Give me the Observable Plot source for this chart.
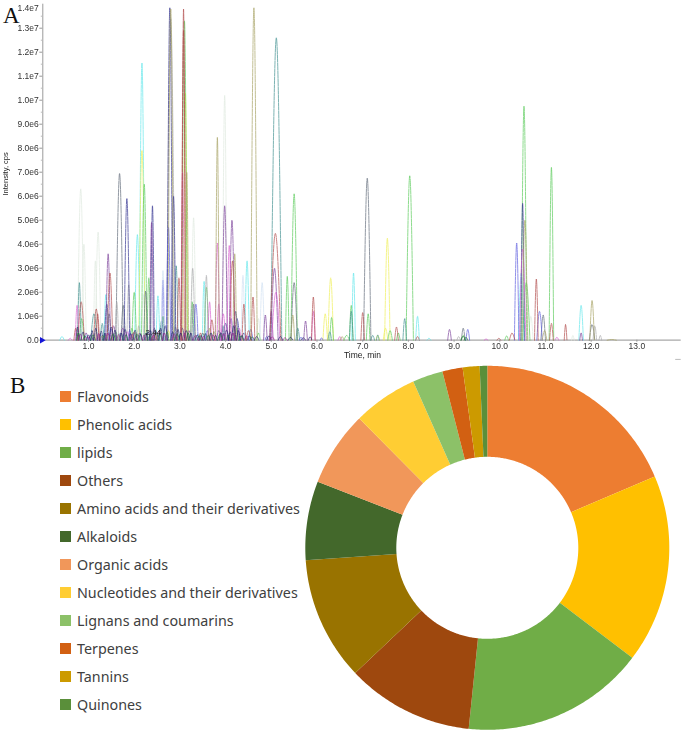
<!DOCTYPE html>
<html>
<head>
<meta charset="utf-8">
<script src="https://cdn.jsdelivr.net/npm/d3@7"></script>
<script src="https://cdn.jsdelivr.net/npm/@observablehq/plot@0.6"></script>
<style>
html,body{margin:0;padding:0;background:#fff;}
#page{position:relative;width:685px;height:733px;overflow:hidden;}
#page>*{position:absolute;}
.letter{font-family:"Liberation Serif",serif;font-size:23px;color:#111;line-height:1;}
#legend{left:60px;top:382.5px;font-family:"Noto Sans",sans-serif;font-size:14.3px;color:#404040;}
#legend div{display:flex;align-items:center;height:28px;white-space:nowrap;}
#legend i{display:inline-block;width:11px;height:11px;margin-right:6px;}
#panelA{filter:blur(0.45px);}
</style>
</head>
<body>
<div id="page"></div>
<script>
// ---------- Panel A: chromatogram peaks, [time min, height 1e6 cps, half base width min]
const paleGreenPeaks = [[0.83,6.3,.07],[0.9,4.0,.05],[1.15,3.3,.04],[1.21,4.5,.06],[3.3,5.1,.05],[3.98,10.2,.05],[4.72,.9,.04],[10.68,1.0,.05],[11.6,.2,.03],[2.2,1.9,.04]];
const cyanPeaks = [[0.42,.15,.05],[1.38,1.9,.04],[2.07,4.4,.06],[2.17,11.55,.06],[2.52,1.85,.04],[3.53,2.45,.04],[4.47,3.3,.05],[6.8,2.8,.04],[8.2,1.0,.04],[8.45,.08,.04],[10.47,2.8,.06],[11.78,1.45,.05],[0.95,.2,.04],[3.4,.25,.05]];
const yellowPeaks = [[2.17,7.9,.07],[3.12,10.3,.05],[6.18,1.1,.05],[6.3,2.6,.06],[7.33,.2,.04],[7.5,.5,.05],[7.54,4.25,.06],[2.75,.4,.05],[4.3,.25,.05]];
const greenPeaks = [[2.0,2.0,.05],[2.22,6.5,.06],[2.32,2.6,.04],[3.1,13.3,.06],[3.27,1.6,.04],[3.58,2.2,.05],[2.63,1.0,.04],[4.72,.3,.04],[5.35,2.65,.04],[5.5,6.1,.07],[6.32,.95,.04],[6.65,.2,.06],[6.75,1.45,.04],[7.12,1.1,.04],[7.6,.4,.05],[7.78,.3,.04],[8.03,6.85,.08],[9.2,.2,.04],[10.15,.18,.04],[10.53,9.75,.06],[10.58,2.4,.08],[11.13,7.2,.05],[0.85,.9,.05],[1.6,.35,.04],[1.95,.5,.04],[3.75,.35,.05],[4.25,.5,.04]];
const tealPeaks = [[0.8,2.4,.04],[1.12,1.1,.07],[1.3,.7,.04],[2.92,3.1,.04],[5.11,12.6,.12],[5.58,.5,.04],[6.28,.35,.04],[6.75,1.2,.04],[7.22,.2,.04],[7.33,.22,.03],[7.92,.9,.04],[2.6,.8,.05],[1.7,.3,.05],[3.95,.6,.04]];
const slatePeaks = [[1.68,6.95,.08],[1.76,1.45,.05],[2.25,2.05,.04],[2.44,.5,.05],[3.5,.3,.05],[5.5,2.4,.07],[7.1,6.75,.08],[9.2,.5,.04],[10.95,1.05,.05],[12.02,.65,.06],[3.3,1.5,.04],[1.45,1.1,.05],[2.9,.55,.05]];
const grayPeaks = [[1.62,1.6,.04],[1.88,2.3,.04],[2.8,13.4,.09],[3.28,3.0,.05],[3.58,2.7,.04],[12.08,.6,.04],[12.2,.2,.03],[9.1,.15,.04],[1.05,.25,.04],[2.1,.6,.04]];
const navyPeaks = [[1.4,1.5,.05],[1.84,5.9,.06],[2.4,5.6,.04],[2.78,13.85,.06],[2.86,6.0,.05],[4.22,1.2,.05],[4.25,.9,.06],[10.5,5.7,.04],[2.3,.35,.05],[3.05,.5,.06],[1.05,.2,.05],[3.85,.4,.05],[4.0,.7,.06],[4.4,.3,.05]];
const bluePeaks = [[2.63,2.5,.03],[2.75,4.7,.05],[3.35,1.5,.05],[4.55,.45,.05],[9.3,.45,.04],[10.37,4.05,.05],[10.87,1.2,.06],[1.5,.45,.05],[1.9,.4,.04],[3.6,.4,.05],[4.12,.9,.05],[4.9,.15,.04],[1.25,.25,.05],[6.1,.1,.03],[5.65,.12,.04]];
const lightBluePeaks = [[2.63,2.9,.04],[4.38,2.7,.04],[4.8,2.4,.05]];
const purplePeaks = [[1.43,3.6,.05],[1.55,.6,.05],[2.38,4.9,.04],[3.98,5.6,.06],[4.14,5.0,.06],[4.87,1.05,.04],[5.0,1.2,.04],[5.07,3.0,.08],[5.75,.8,.04],[8.9,.45,.04],[11.78,.3,.03],[0.95,.3,.05],[1.75,.5,.06],[2.12,.3,.05],[3.2,.4,.05]];
const magentaPeaks = [[0.6,.08,.04],[0.75,1.45,.04],[3.06,7.0,.04],[3.65,1.6,.04],[3.82,4.05,.05],[3.85,1.5,.04],[4.08,3.95,.05],[5.1,2.0,.09],[5.92,1.2,.04],[6.5,.15,.04],[10.5,3.8,.07],[11.25,.12,.04],[1.85,.35,.05],[2.55,.4,.05],[3.95,1.1,.05],[4.3,.5,.04],[9.7,.05,.04]];
const redBrownPeaks = [[0.84,1.6,.07],[1.17,1.3,.06],[1.47,2.8,.06],[1.2,1.1,.04],[2.98,2.6,.04],[3.08,13.8,.04],[3.08,12.9,.05],[3.7,.85,.05],[4.15,3.3,.06],[4.4,1.5,.04],[4.6,1.8,.04],[5.09,4.45,.12],[5.92,1.8,.04],[7.0,1.15,.04],[7.74,.55,.04],[8.2,.15,.04],[9.98,.08,.04],[10.27,.3,.06],[10.8,2.55,.04],[11.13,.7,.04],[11.44,.65,.03],[2.0,.35,.05],[2.45,.3,.05],[0.72,.5,.04],[3.45,.3,.04],[4.5,.4,.05]];
const olivePeaks = [[2.8,13.8,.06],[3.15,7.0,.04],[3.82,8.45,.04],[4.2,3.6,.04],[4.62,13.85,.07],[5.47,1.05,.04],[6.55,.15,.04],[10.55,5.0,.06],[10.98,.4,.05],[12.02,1.65,.05],[3.65,.5,.04],[2.5,.3,.05],[1.3,.2,.04],[12.45,.03,.1]];
// dense low-level clutter along the baseline
const lowDarkPeaks = [[0.76,.55,.03],[0.88,.35,.04],[1.0,.22,.04],[1.08,.4,.03],[1.16,.5,.04],[1.28,.38,.04],[1.36,.3,.03],[1.5,.55,.05],[1.58,.42,.04],[1.72,.3,.04],[1.8,.45,.05],[1.92,.28,.04],[2.02,.42,.04],[2.14,.26,.04],[2.26,.3,.04],[2.36,.4,.03],[2.48,.36,.05],[2.58,.5,.04],[2.68,.6,.05],[2.84,.35,.04],[2.96,.45,.04],[3.02,.3,.04],[3.14,.4,.05],[3.24,.3,.04],[3.38,.22,.05],[3.46,.2,.04],[3.56,.28,.04],[3.68,.3,.04],[3.78,.2,.04],[3.9,.32,.04],[4.02,.42,.05],[4.1,.35,.04],[4.18,.6,.05],[4.28,.4,.04],[4.36,.2,.04],[4.52,.18,.05],[4.68,.15,.05],[4.95,.18,.05],[5.2,.15,.05],[5.42,.12,.05],[5.7,.1,.05],[5.85,.14,.04]];
const lowGreenPeaks = [[0.78,.3,.04],[0.92,.18,.04],[1.1,.22,.05],[1.34,.2,.04],[1.54,.26,.05],[1.82,.22,.04],[2.06,.25,.05],[2.34,.2,.04],[2.56,.3,.05],[2.72,.35,.04],[2.94,.26,.05],[3.18,.3,.04],[3.42,.18,.05],[3.62,.2,.05],[3.88,.26,.05],[4.06,.22,.04],[4.34,.18,.05],[4.58,.14,.05],[9.2,.16,.05],[9.26,.12,.04]];
const lowMagentaPeaks = [[0.82,.25,.04],[0.98,.16,.04],[1.22,.28,.04],[1.42,.3,.05],[1.66,.24,.04],[1.96,.26,.05],[2.22,.22,.04],[2.42,.2,.05],[2.66,.3,.04],[2.88,.26,.05],[3.1,.3,.04],[3.34,.2,.05],[3.52,.16,.04],[3.72,.22,.05],[3.96,.28,.04],[4.16,.3,.05],[4.46,.18,.05],[5.02,.14,.05],[5.3,.1,.05]];

const peakColors = ["#dfe9df","#5fe6ea","#efef55","#57c957","#3f8f8f","#5f6a78","#a9a9ac","#2f2f8f","#5a5ade","#cfe0f2","#7a3f98","#d85fd0","#b04a4a","#a5a060","#23236e","#1f7a3a","#a0208c"];
const peakGroups = [paleGreenPeaks,cyanPeaks,yellowPeaks,greenPeaks,tealPeaks,slatePeaks,grayPeaks,navyPeaks,bluePeaks,lightBluePeaks,purplePeaks,magentaPeaks,redBrownPeaks,olivePeaks,lowDarkPeaks,lowGreenPeaks,lowMagentaPeaks];

const xTicks = [1,2,3,4,5,6,7,8,9,10,11,12,13];
const xTickLabels = ["1.0","2.0","3.0","4.0","5.0","6.0","7.0","8.0","9.0","10.0","11.0","12.0","13.0"];
const yTicks = [0,1e6,2e6,3e6,4e6,5e6,6e6,7e6,8e6,9e6,1e7,1.1e7,1.2e7,1.3e7];
const yTickLabels = ["0.0","1.0e6","2.0e6","3.0e6","4.0e6","5.0e6","6.0e6","7.0e6","8.0e6","9.0e6","1.0e7","1.1e7","1.2e7","1.3e7"];
const yMinorTicks = [5e5,1.5e6,2.5e6,3.5e6,4.5e6,5.5e6,6.5e6,7.5e6,8.5e6,9.5e6,1.05e7,1.15e7,1.25e7,1.35e7];

// ---------- Panel B: composition
const categories = ["Flavonoids","Phenolic acids","lipids","Others","Amino acids and their derivatives","Alkaloids","Organic acids","Nucleotides and their derivatives","Lignans and coumarins","Terpenes","Tannins","Quinones"];
const shares = [18.6,16.75,16.3,11.3,11.0,7.0,6.67,5.75,2.7,1.8,1.5,0.67];
const sliceColors = ["#ED7D31","#FFC000","#70AD47","#9E480E","#997300","#43682B","#F1975A","#FFCD33","#8CC168","#D26012","#CC9A00","#5A8F3A"];

// chromatogram rows: each peak is base, apex, base
const rows = [];
let pid = 0;
peakGroups.forEach((g, gi) => g.forEach(([t, h, w]) => {
  pid++;
  rows.push({id: pid, t: t - w, v: 0, c: peakColors[gi]});
  rows.push({id: pid, t, v: h * 1e6, c: peakColors[gi]});
  rows.push({id: pid, t: t + w, v: 0, c: peakColors[gi]});
}));

const fmtX = d => xTickLabels[xTicks.indexOf(d)];
const fmtY = d => yTickLabels[yTicks.indexOf(d)];

const panelA = Plot.plot({
  width: 685, height: 365,
  marginLeft: 42.3, marginRight: 4.3, marginTop: 3.7, marginBottom: 25.3,
  style: {fontFamily: "'Liberation Sans',sans-serif", fontSize: "8.5px", background: "transparent"},
  x: {domain: [0, 13.97]},
  y: {domain: [0, 1.4e7]},
  color: {type: "identity"},
  marks: [
    Plot.ruleX([0], {stroke: "#9a9a9a", strokeWidth: 1}),
    Plot.ruleY([0], {stroke: "#a8a8a8", strokeWidth: 1.2}),
    Plot.line(rows, {x: "t", y: "v", z: "id", stroke: "c", strokeWidth: 0.8, strokeOpacity: 0.85, strokeDasharray: "7 1", curve: "monotone-x"}),
    Plot.axisX({ticks: xTicks, tickFormat: fmtX, tickSize: 2, tickPadding: 1, stroke: "#999", fill: "#333", label: null}),
    Plot.axisY({ticks: yTicks, tickFormat: fmtY, tickSize: 3, tickPadding: 1, stroke: "#999", fill: "#333", label: null}),
    Plot.axisY({ticks: yMinorTicks, tickFormat: () => "", tickSize: 1.5, stroke: "#bbb", label: null}),
    Plot.text(["1.4e7"], {x: [0], y: [1.382e7], textAnchor: "end", dx: -4, fill: "#333"}),
    Plot.text(["2.44"], {x: [2.42], y: [3.4e5], fill: "#222", fontSize: 8}),
    Plot.text(["Time, min"], {x: [6.995], y: [-6.4e5], fill: "#222"}),
    Plot.text(["Intensity, cps"], {x: [-0.81], y: [6.93e6], rotate: -90, fill: "#222", fontSize: 7.5}),
    Plot.dot([0], {x: [-0.02], y: [0], symbol: "triangle", rotate: 90, r: 2.4, fill: "#1515d8", stroke: "none"}),
    Plot.ruleY([-0.8e6], {x1: [13.85], x2: [13.97], stroke: "#bbb"})
  ]
});
panelA.id = "panelA";
panelA.style.left = "0px"; panelA.style.top = "0px";

// donut rows: inner and outer radius points swept along each slice
const holeRatio = 0.5;
const total = d3.sum(shares);
const arcRows = [];
let cum = 0;
categories.forEach((name, i) => {
  const a0 = cum / total * 2 * Math.PI;
  cum += shares[i];
  const a1 = cum / total * 2 * Math.PI;
  const n = Math.max(2, Math.ceil((a1 - a0) * 90));
  d3.range(n + 1).forEach(k => {
    const a = a0 + (a1 - a0) * k / n;
    arcRows.push({name,
      xi: holeRatio * Math.sin(a), yi: holeRatio * Math.cos(a),
      xo: Math.sin(a), yo: Math.cos(a)});
  });
});

const panelB = Plot.plot({
  width: 685, height: 368,
  margin: 0,
  x: {domain: [-1, 1], range: [305.3, 669.3], axis: null},
  y: {domain: [-1, 1], range: [364.8, 0.8], axis: null},
  color: {domain: categories, range: sliceColors},
  style: {background: "transparent"},
  marks: [
    Plot.area(arcRows, {x1: "xi", y1: "yi", x2: "xo", y2: "yo", z: "name", fill: "name", curve: "linear"})
  ]
});
panelB.style.left = "0px"; panelB.style.top = "365px";

const page = document.getElementById("page");
page.append(panelA, panelB);

const legend = document.createElement("div");
legend.id = "legend";
categories.forEach((name, i) => {
  const row = document.createElement("div");
  const sw = document.createElement("i");
  sw.style.background = sliceColors[i];
  row.append(sw, document.createTextNode(name));
  legend.append(row);
});
page.append(legend);

[["A", 3, 4], ["B", 10, 374]].forEach(([t, x, y]) => {
  const el = document.createElement("div");
  el.className = "letter";
  el.textContent = t;
  el.style.left = x + "px"; el.style.top = y + "px";
  page.append(el);
});
</script>
</body>
</html>
